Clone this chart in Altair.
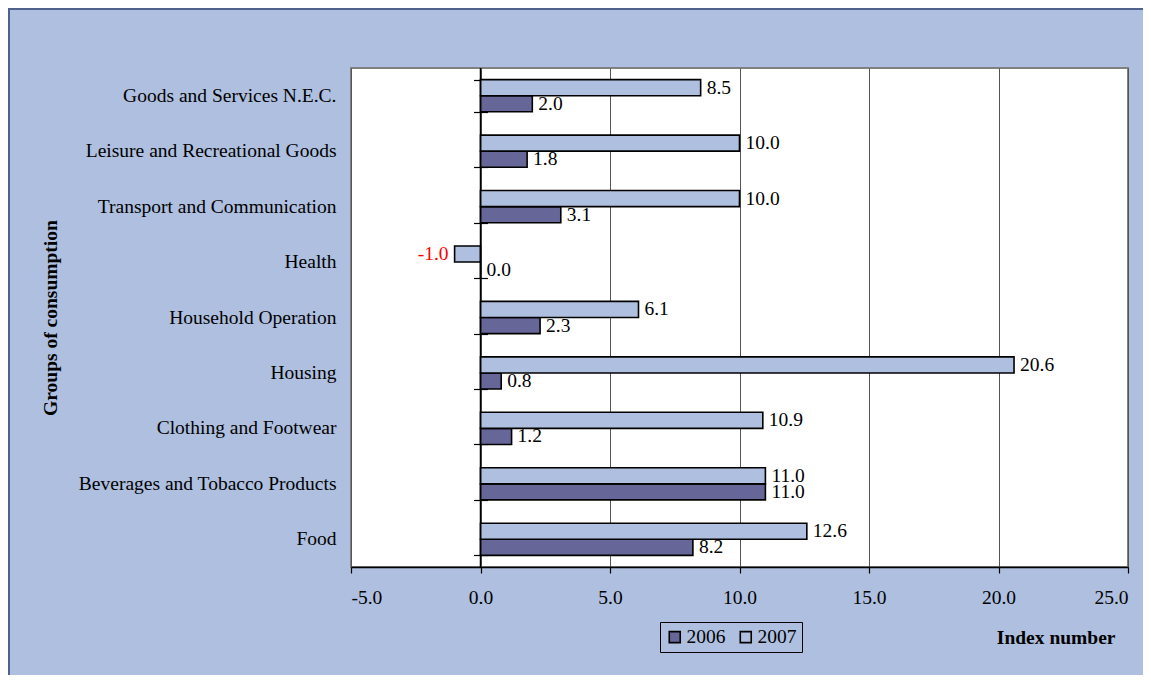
import altair as alt
import pandas as pd

groups = [
    "Goods and Services N.E.C.",
    "Leisure and Recreational Goods",
    "Transport and Communication",
    "Health",
    "Household Operation",
    "Housing",
    "Clothing and Footwear",
    "Beverages and Tobacco Products",
    "Food",
]
values_2006 = [2.0, 1.8, 3.1, 0.0, 2.3, 0.8, 1.2, 11.0, 8.2]
values_2007 = [8.5, 10.0, 10.0, -1.0, 6.1, 20.6, 10.9, 11.0, 12.6]
years = ["2006", "2007"]

rows = []
for g, a, b in zip(groups, values_2006, values_2007):
    rows.append({"group": g, "year": "2006", "value": a})
    rows.append({"group": g, "year": "2007", "value": b})
df = pd.DataFrame(rows)

BG = "#AEBFDF"
DARK = "#666699"
LIGHT = "#AEBFDF"
FONT = "Liberation Serif"
FS = 19.5

W, H = 777, 499
PL, PT, PR, PB = 343, 60, 15, 108

xscale = alt.Scale(domain=[-5, 25], nice=False, zero=False)
yscale = alt.Scale(paddingInner=0.42, paddingOuter=0.21)
MINUS_FIX = "replace(format(datum.value, '.1f'), '\u2212', '-')"

base = alt.Chart(df).transform_calculate(
    label="replace(format(datum.value, '.1f'), '\u2212', '-')"
)

bars = base.mark_bar(stroke="black", strokeWidth=1.6).encode(
    x=alt.X("value:Q", scale=xscale,
            axis=alt.Axis(values=[-5, 0, 5, 10, 15, 20, 25], labelExpr=MINUS_FIX,
                          grid=True, gridColor="#555555", gridWidth=1,
                          domainColor="black", domainWidth=1.5,
                          tickColor="black", tickSize=6, tickWidth=1.2,
                          labelFont=FONT, labelFontSize=FS, labelColor="black",
                          labelPadding=15,
                          title="Index number", titleFont=FONT, titleFontSize=FS,
                          titleFontWeight="bold", titleColor="black",
                          titleAnchor="end", titleAlign="right",
                          titleX=764, titleY=70, titleBaseline="middle")),
    y=alt.Y("group:N", sort=groups, scale=yscale,
            axis=alt.Axis(domain=False, ticks=False, labelPadding=15,
                          labelFont=FONT, labelFontSize=FS, labelColor="black",
                          labelLimit=400,
                          title="Groups of consumption", titleFont=FONT,
                          titleFontSize=FS, titleFontWeight="bold",
                          titleColor="black", titleAngle=270,
                          titleX=-301, titleY=H / 2, titleAlign="center",
                          titleBaseline="middle")),
    yOffset=alt.YOffset("year:N", sort=["2007", "2006"]),
    color=alt.Color("year:N", scale=alt.Scale(domain=years, range=[DARK, LIGHT]),
                    legend=alt.Legend(title=None, orient="none", legendX=309,
                                      legendY=554, direction="horizontal",
                                      symbolType="square", symbolSize=120,
                                      symbolStrokeColor="black",
                                      symbolStrokeWidth=1.6,
                                      labelFont=FONT, labelFontSize=FS,
                                      labelColor="black", labelOffset=2,
                                      columnPadding=10,
                                      strokeColor="black", padding=5,
                                      fillColor=BG)),
)

pos_text = base.transform_filter("datum.value >= 0").mark_text(
    align="left", baseline="middle", dx=6, dy=0, font=FONT, fontSize=FS,
    color="black"
).encode(
    x=alt.X("value:Q", scale=xscale),
    y=alt.Y("group:N", sort=groups, scale=yscale, axis=None),
    yOffset=alt.YOffset("year:N", sort=["2007", "2006"]),
    text=alt.Text("label:N"),
)

neg_text = base.transform_filter("datum.value < 0").mark_text(
    align="right", baseline="middle", dx=-6, dy=0, font=FONT, fontSize=FS,
    color="red"
).encode(
    x=alt.X("value:Q", scale=xscale),
    y=alt.Y("group:N", sort=groups, scale=yscale, axis=None),
    yOffset=alt.YOffset("year:N", sort=["2007", "2006"]),
    text=alt.Text("label:N"),
)

zero_rule = alt.Chart(pd.DataFrame({"v": [0]})).mark_rule(
    color="black", strokeWidth=1.5
).encode(x=alt.X("v:Q", scale=xscale))

tick_axis = base.mark_point(opacity=0).encode(
    x=alt.X("value:Q", scale=xscale),
    y=alt.Y("group:N", sort=groups, scale=yscale,
            axis=alt.Axis(orient="left", offset=-(W / 6 + 7), domain=False,
                          labels=False, ticks=True, tickSize=14,
                          tickColor="black", tickWidth=1.2, tickBand="extent",
                          title=None, grid=False)),
)

border = alt.Chart(pd.DataFrame({"a": [1]})).mark_rect(
    fill=None, stroke="#4F6289", strokeWidth=2
).encode(
    x=alt.value(-PL + 1), x2=alt.value(W + PR + 40),
    y=alt.value(-PT + 1), y2=alt.value(H + PB + 40),
)

chart = alt.layer(
    bars, zero_rule, pos_text, neg_text, tick_axis, border
).resolve_axis(y="independent").properties(
    width=W, height=H,
    autosize=alt.AutoSizeParams(type="none"),
    padding={"left": PL, "top": PT, "right": PR, "bottom": PB},
    background=BG,
).configure_view(
    fill="white", stroke="#808080", strokeWidth=2
)

chart.save("out.html", embed_options={"renderer": "svg", "actions": False})
